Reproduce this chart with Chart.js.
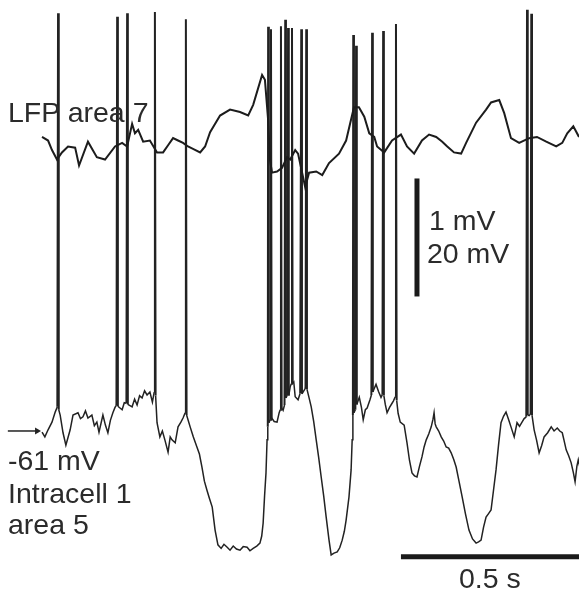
<!DOCTYPE html>
<html>
<head>
<meta charset="utf-8">
<script src="https://cdn.jsdelivr.net/npm/chart.js@4.4.0/dist/chart.umd.min.js"></script>
<style>
  body { margin: 0; background: #fff; }
  #wrap { position: relative; width: 579px; height: 593px; }
  .lbl {
    position: absolute;
    font-family: "Liberation Sans", Arial, sans-serif;
    font-size: 28.5px;
    line-height: 28.5px;
    color: #2b2b2b;
    white-space: nowrap;
  }
</style>
</head>
<body>
<div id="wrap">
  <canvas id="myChart" width="579" height="593"></canvas>
  <div class="lbl" style="left:8px;top:98px">LFP area 7</div>
  <div class="lbl" style="left:429px;top:206px">1 mV</div>
  <div class="lbl" style="left:427px;top:239px">20 mV</div>
  <div class="lbl" style="left:8px;top:446px">-61 mV</div>
  <div class="lbl" style="left:8px;top:479px">Intracell 1</div>
  <div class="lbl" style="left:8px;top:510px">area 5</div>
  <div class="lbl" style="left:459px;top:564px">0.5 s</div>
</div>
<script>
// LFP area 7 (time in ms, value in mV, relative)
const lfpT = [0, 17, 28, 42, 56, 73, 93, 104, 129, 154, 177, 205, 225, 239, 253, 261, 270, 284, 303, 323,
  340, 354, 368, 382, 396, 410, 424, 444, 458, 472, 500, 528, 556, 579, 593, 618, 626, 635, 640, 646,
  660, 674, 688, 697, 711, 719, 739, 750, 770, 787, 806, 834, 854, 876, 890, 905, 919, 933, 941, 961,
  983, 1008, 1025, 1045, 1067, 1087, 1107, 1124, 1138, 1157, 1177, 1191, 1219, 1247, 1261, 1284, 1298,
  1317, 1340, 1368, 1390, 1416, 1444, 1461, 1475, 1492, 1508];
const lfpV = [0.11, 0.08, 0.00, -0.08, -0.02, 0.03, 0.02, -0.13, 0.07, -0.06, -0.08, 0.03, 0.06, 0.03, 0.22, 0.14, 0.17, 0.07, 0.08, -0.02,
  -0.02, 0.04, 0.10, 0.08, 0.06, 0.03, 0.01, -0.02, 0.03, 0.15, 0.29, 0.34, 0.32, 0.29, 0.38, 0.63, 0.59, 0.25, -0.08, -0.19,
  -0.18, -0.15, -0.06, -0.08, 0.00, -0.03, -0.31, -0.19, -0.18, -0.21, -0.11, -0.03, 0.08, 0.36, 0.36, 0.28, 0.14, 0.11, 0.03, -0.02,
  0.08, 0.13, 0.03, -0.03, 0.08, 0.13, 0.11, 0.07, 0.03, -0.02, -0.03, 0.06, 0.23, 0.34, 0.40, 0.42, 0.31,
  0.10, 0.06, 0.10, 0.11, 0.07, 0.03, 0.06, 0.14, 0.20, 0.11];

// Intracell 1 area 5 (time in ms, membrane potential in mV, spikes included)
const cellT = [0, 8, 17, 28, 37, 43, 45, 47, 51, 59, 67, 79, 87, 101, 108, 115, 122, 129, 140, 147,
  154, 160, 171, 178, 185, 192, 199, 205, 209, 211, 213, 225, 231, 237, 239, 241, 253, 260, 267, 274,
  281, 288, 295, 303, 310, 315, 317, 319, 323, 331, 338, 345, 354, 360, 365, 374, 382, 390, 396, 402,
  404, 406, 416, 425, 435, 442, 449, 456, 463, 470, 478, 486, 494, 503, 511, 520, 528, 537, 546, 556,
  565, 576, 584, 593, 603, 612, 617, 621, 625, 629, 632, 634, 635, 637, 641, 643, 645, 652, 660, 666,
  669, 671, 673, 677, 681, 683, 685, 689, 691, 693, 697, 700, 702, 704, 707, 711, 719, 725, 728, 730,
  736, 740, 742, 744, 750, 756, 763, 770, 777, 784, 791, 798, 806, 812, 820, 829, 836, 843, 849, 854,
  862, 868, 871, 873, 874, 876, 880, 882, 884, 891, 897, 902, 908, 913, 921, 925, 927, 929, 933, 938,
  945, 952, 956, 958, 960, 964, 969, 976, 983, 987, 992, 994, 996, 1000, 1006, 1017, 1025, 1032, 1039, 1046,
  1053, 1060, 1067, 1073, 1079, 1086, 1093, 1098, 1101, 1104, 1107, 1114, 1121, 1128, 1135, 1142, 1149, 1156, 1163, 1171,
  1180, 1189, 1199, 1209, 1219, 1226, 1233, 1240, 1247, 1254, 1261, 1268, 1275, 1282, 1289, 1296, 1303, 1310, 1317, 1326,
  1334, 1341, 1348, 1354, 1360, 1362, 1364, 1368, 1372, 1374, 1376, 1382, 1389, 1396, 1403, 1410, 1420, 1430, 1438, 1447,
  1454, 1461, 1466, 1472, 1479, 1486, 1492, 1497, 1502, 1506, 1512];
const cellV = [-61.2, -62.0, -60.8, -59.5, -57.8, -56.9, 9.8, -57.4, -58.3, -61.3, -63.4, -60.8, -58.3, -57.9, -58.9, -58.6, -57.6, -58.8, -58.3, -60.1,
  -59.5, -61.2, -58.3, -60.0, -61.3, -59.2, -57.9, -57.0, -56.6, 9.2, -56.8, -57.4, -56.2, -56.3, 9.8, -56.5, -56.9, -55.6, -56.6, -55.0,
  -55.4, -54.2, -54.9, -54.4, -56.1, -54.4, 10.0, -55.0, -59.6, -62.0, -61.0, -62.5, -64.6, -62.0, -62.5, -63.0, -60.3, -59.5, -58.8, -57.9,
  8.8, -58.3, -60.3, -62.0, -63.7, -64.9, -67.1, -69.5, -71.0, -72.4, -73.9, -77.8, -80.3, -80.9, -80.2, -80.7, -81.2, -80.5, -81.0, -81.2,
  -80.6, -80.7, -81.3, -80.9, -80.5, -80.0, -78.8, -76.6, -72.0, -68.1, -62.5, -60.3, 7.5, -59.6, -59.1, 7.1, -58.8, -59.4, -59.5, -57.9,
  -57.4, 7.6, -57.1, -57.5, -56.6, 8.7, -55.4, -54.9, 7.3, -55.0, -53.5, -53.0, 7.3, -52.9, -52.7, -55.2, -55.7, -54.6, 7.1, -54.7,
  -54.1, -53.7, 7.1, -53.9, -55.4, -56.9, -59.4, -62.5, -65.5, -68.8, -72.0, -75.6, -79.5, -82.0, -81.7, -81.5, -80.8, -79.5, -78.0, -76.1,
  -72.2, -67.6, -62.5, -58.3, 6.1, -57.9, -57.4, 4.3, -56.5, -55.3, -57.0, -59.1, -57.4, -57.1, -55.7, -54.9, 6.5, -54.4, -53.8, -53.1,
  -54.3, -55.3, -54.8, 6.8, -55.0, -56.5, -57.9, -57.0, -56.3, -55.9, -55.2, 8.0, -55.8, -58.0, -59.5, -60.0, -63.0, -66.0, -68.1, -68.6,
  -68.8, -67.0, -65.4, -63.7, -62.5, -61.5, -60.3, -59.0, -57.9, -59.8, -60.3, -61.0, -62.0, -62.7, -63.7, -63.9, -64.7, -65.8, -67.1, -69.5,
  -72.2, -75.0, -77.8, -79.3, -80.0, -79.8, -79.5, -77.3, -75.6, -75.0, -74.4, -71.0, -67.6, -63.4, -59.6, -58.5, -57.8, -59.0, -60.3, -62.0,
  -59.6, -60.2, -59.5, -58.9, -58.6, 10.4, -58.3, -58.4, -58.1, 9.7, -58.3, -60.8, -62.6, -64.7, -63.5, -62.0, -61.3, -60.3, -61.0, -60.5,
  -61.0, -61.3, -62.6, -64.2, -65.2, -66.4, -68.0, -69.6, -67.0, -65.9, -67.6];

// scale bars: 0.5 s horizontal, 20 mV (1 mV LFP) vertical
const timeBarT = [1008, 1508];
const timeBarV = [-82.3, -82.3];
const voltBarT = [1053, 1053];
const voltBarV = [-38.2, -18.2];
// arrow marking -61 mV
const arrowT = [-96, -14];
const arrowV = [-61, -61];

function pts(xs, ys) {
    return xs.map((x, i) => ({ x: x, y: ys[i] }));
}

// spike strokes a bit heavier than the subthreshold trace
function spikeWidth(c) {
    if (c.p0.parsed.y > -30 || c.p1.parsed.y > -30) return 2;
    return 1.5;
}

const ctx = document.getElementById('myChart').getContext('2d');
const myChart = new Chart(ctx, {
    type: 'line',
    data: {
        datasets: [
            {
                label: 'LFP area 7',
                data: pts(lfpT, lfpV),
                yAxisID: 'yL',
                borderColor: '#1c1c1c',
                borderWidth: 2,
                pointRadius: 0
            },
            {
                label: 'Intracell 1 area 5',
                data: pts(cellT, cellV),
                yAxisID: 'yI',
                borderColor: '#222222',
                borderWidth: 1.5,
                segment: { borderWidth: spikeWidth },
                pointRadius: 0
            },
            {
                label: 'time bar',
                data: pts(timeBarT, timeBarV),
                yAxisID: 'yI',
                borderColor: '#1a1a1a',
                borderWidth: 5,
                borderCapStyle: 'butt',
                pointRadius: 0,
                clip: false
            },
            {
                label: 'voltage bar',
                data: pts(voltBarT, voltBarV),
                yAxisID: 'yI',
                borderColor: '#1a1a1a',
                borderWidth: 5,
                borderCapStyle: 'butt',
                pointRadius: 0,
                clip: false
            },
            {
                label: 'arrow',
                data: pts(arrowT, arrowV),
                yAxisID: 'yI',
                borderColor: '#222222',
                borderWidth: 1.5,
                pointStyle: 'triangle',
                rotation: 90,
                pointRadius: [0, 4],
                pointHoverRadius: 0,
                pointBorderWidth: 0,
                pointBackgroundColor: '#222222',
                clip: false
            }
        ]
    },
    options: {
        responsive: false,
        animation: false,
        layout: { padding: 0, autoPadding: false },
        plugins: {
            legend: { display: false },
            tooltip: { enabled: false }
        },
        elements: { line: { tension: 0 } },
        scales: {
            x: { type: 'linear', display: false, min: -118, max: 1508 },
            yI: { type: 'linear', display: false, min: -88.46, max: 12.05 },
            yL: { type: 'linear', display: false, min: -3.723, max: 1.261 }
        }
    }
});
</script>
</body>
</html>
